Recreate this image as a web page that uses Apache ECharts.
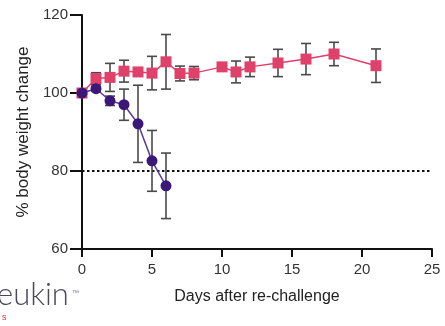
<!DOCTYPE html>
<html><head><meta charset="utf-8">
<script src="https://cdn.jsdelivr.net/npm/echarts@6/dist/echarts.min.js"></script>
<style>html,body{margin:0;padding:0;background:#fff}#c{width:445px;height:326px}</style>
</head><body><div id="c"></div>
<script>
const xTicks = [0, 5, 10, 15, 20, 25];
const yTicks = [60, 80, 100, 120];
const pinkDays = [0, 1, 2, 3, 4, 5, 6, 7, 8, 10, 11, 12, 14, 16, 18, 21];
const pinkMean = [100, 103.7, 104.0, 105.6, 105.4, 105.1, 108.0, 105.0, 105.1, 106.7, 105.4, 106.7, 107.7, 108.7, 110.0, 107.0];
const pinkErr  = [0, 1.5, 3.6, 2.8, 0.5, 4.3, 7.0, 1.9, 1.7, 0.5, 2.8, 2.5, 3.5, 4.0, 3.0, 4.3];
const purpleDays = [0, 1, 2, 3, 4, 5, 6];
const purpleMean = [100, 101.1, 98.0, 97.0, 92.1, 82.6, 76.2];
const purpleErr  = [0, 0.6, 1.2, 4.0, 9.9, 7.8, 8.4];
const thresholdY = 80;

const pinkColor = '#e0416b', purpleColor = '#3b1878', errColor = '#4a4a4a';
function errData(days, mean, err){ return days.map((d,i)=>[d, mean[i]-err[i], mean[i]+err[i]]); }
function errRender(params, api){
  const x = api.value(0), lo = api.value(1), hi = api.value(2);
  if (hi - lo < 0.01) return null;
  const p1 = api.coord([x, hi]), p2 = api.coord([x, lo]);
  const w = 5;
  const st = {stroke: errColor, lineWidth: 1.6};
  return {type:'group', children:[
    {type:'line', shape:{x1:p1[0],y1:p1[1],x2:p2[0],y2:p2[1]}, style:st},
    {type:'line', shape:{x1:p1[0]-w,y1:p1[1],x2:p1[0]+w,y2:p1[1]}, style:st},
    {type:'line', shape:{x1:p2[0]-w,y1:p2[1],x2:p2[0]+w,y2:p2[1]}, style:st}
  ]};
}
const chart = echarts.init(document.getElementById('c'));
const axisText = {color:'#333', fontSize:15, fontFamily:'Liberation Sans, Arial, sans-serif'};
chart.setOption({
  animation:false,
  grid:{left:82, right:13, top:15, bottom:77},
  xAxis:{type:'value', min:0, max:25, interval:5,
    name:'Days after re-challenge', nameLocation:'middle', nameGap:40,
    nameTextStyle:{color:'#222', fontSize:16, fontFamily:'Liberation Sans, Arial, sans-serif'},
    axisLine:{lineStyle:{color:'#111', width:2}},
    axisTick:{length:8, lineStyle:{color:'#111', width:2}},
    axisLabel:Object.assign({margin:13, formatter:v=>xTicks.includes(v)?String(v):''}, axisText),
    splitLine:{show:false}},
  yAxis:{type:'value', min:60, max:120, interval:20,
    name:'% body weight change', nameLocation:'middle', nameGap:49, nameRotate:90,
    nameTextStyle:{color:'#222', fontSize:17, fontFamily:'Liberation Sans, Arial, sans-serif'},
    axisLine:{show:true, lineStyle:{color:'#111', width:2}},
    axisTick:{show:true, length:12, lineStyle:{color:'#111', width:2}},
    axisLabel:Object.assign({margin:14, formatter:v=>yTicks.includes(v)?String(v):''}, axisText),
    splitLine:{show:false}},
  graphic:[
    {type:'text', left:-3, top:279, style:{text:'eukin', fill:'#4a4858', fontSize:31, fontFamily:'Lato, Liberation Sans, sans-serif', fontWeight:300}},
    {type:'text', left:72, top:290, style:{text:'™', fill:'#777', fontSize:7}},
    {type:'text', left:2, top:313, style:{text:'s', fill:'#d03050', fontSize:9, fontFamily:'Liberation Sans, sans-serif'}}
  ],
  series:[
    {type:'line', data:[[0,thresholdY],[25,thresholdY]], symbol:'none', silent:true,
      lineStyle:{color:'#111', width:2, type:[2.5,2.5]}, z:1},
    {type:'custom', renderItem:errRender, data:errData(purpleDays,purpleMean,purpleErr), z:2, silent:true},
    {type:'custom', renderItem:errRender, data:errData(pinkDays,pinkMean,pinkErr), z:2, silent:true},
    {type:'line', data:purpleDays.map((d,i)=>[d,purpleMean[i]]), symbol:'circle', symbolSize:11,
      itemStyle:{color:purpleColor}, lineStyle:{color:'#5a3a9a', width:1.5}, z:4},
    {type:'line', data:pinkDays.map((d,i)=>[d,pinkMean[i]]), symbol:'rect', symbolSize:11,
      itemStyle:{color:pinkColor}, lineStyle:{color:pinkColor, width:1.5}, z:3}
  ]
});
</script></body></html>
